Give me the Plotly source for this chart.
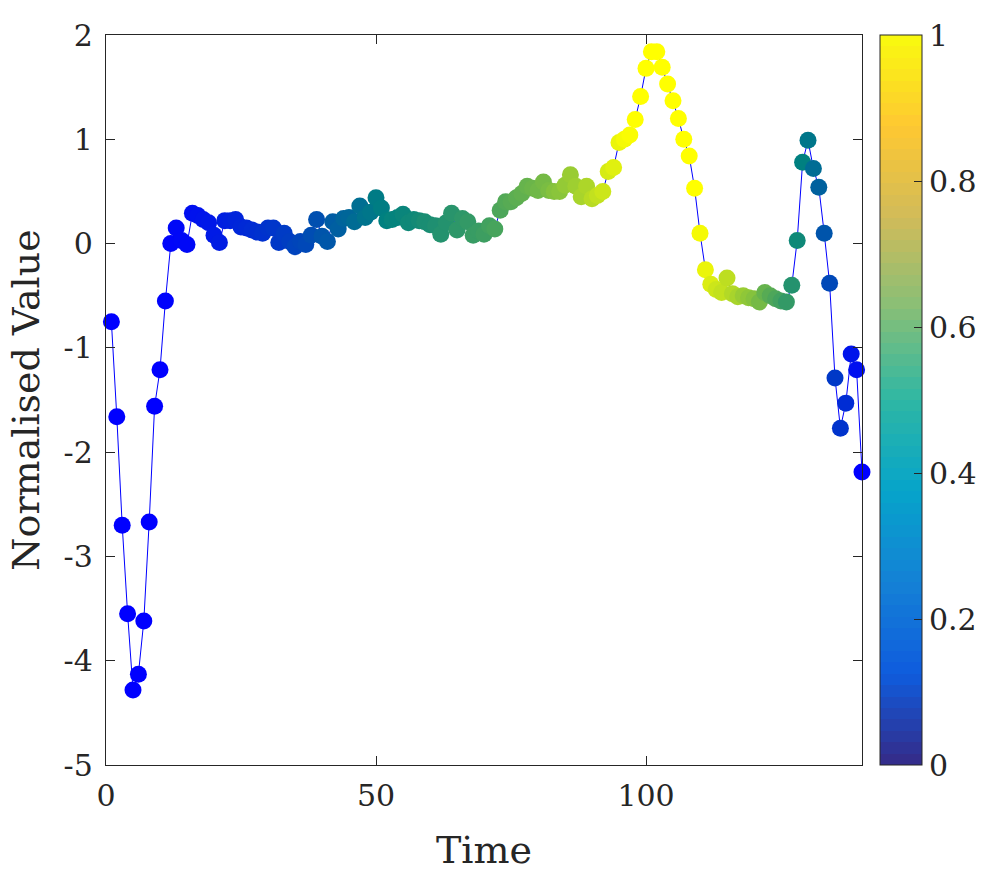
import plotly.graph_objects as go
import numpy as np

time = list(range(1, 141))
values = [
    -0.75, -1.66, -2.70, -3.55, -4.28, -4.13, -3.62, -2.67, -1.56, -1.21,
    -0.55, 0.00, 0.15, 0.03, -0.01, 0.29, 0.27, 0.23, 0.20, 0.08,
    0.01, 0.22, 0.22, 0.23, 0.16, 0.15, 0.13, 0.11, 0.10, 0.15,
    0.15, 0.01, 0.10, 0.02, -0.03, 0.02, -0.01, 0.08, 0.23, 0.07,
    0.02, 0.21, 0.14, 0.24, 0.25, 0.21, 0.36, 0.25, 0.30, 0.44,
    0.34, 0.22, 0.23, 0.25, 0.28, 0.20, 0.23, 0.22, 0.21, 0.18,
    0.17, 0.09, 0.20, 0.29, 0.13, 0.24, 0.21, 0.08, 0.12, 0.09,
    0.17, 0.14, 0.32, 0.40, 0.40, 0.44, 0.48, 0.55, 0.53, 0.51,
    0.59, 0.51, 0.50, 0.50, 0.56, 0.66, 0.55, 0.45, 0.55, 0.43,
    0.46, 0.50, 0.69, 0.73, 0.97, 1.00, 1.04, 1.19, 1.41, 1.68,
    1.84, 1.84, 1.69, 1.53, 1.37, 1.20, 1.00, 0.84, 0.53, 0.10,
    -0.25, -0.39, -0.44, -0.47, -0.33, -0.48, -0.51, -0.50, -0.52, -0.53,
    -0.56, -0.47, -0.50, -0.53, -0.55, -0.56, -0.40, 0.03, 0.78, 0.99,
    0.72, 0.54, 0.10, -0.38, -1.29, -1.77, -1.53, -1.06, -1.21, -2.19,
]
# per-point colour value (0 = blue, 0.5 = teal, 1 = yellow)
colour_val = [
    0.00, 0.00, 0.00, 0.00, 0.00, 0.00, 0.00, 0.00, 0.00, 0.00,
    0.01, 0.02, 0.03, 0.03, 0.03, 0.06, 0.07, 0.08, 0.09, 0.10,
    0.11, 0.12, 0.13, 0.14, 0.15, 0.16, 0.17, 0.18, 0.19, 0.20,
    0.21, 0.22, 0.23, 0.24, 0.26, 0.27, 0.28, 0.30, 0.31, 0.33,
    0.34, 0.36, 0.37, 0.39, 0.40, 0.42, 0.43, 0.45, 0.46, 0.48,
    0.49, 0.50, 0.51, 0.51, 0.52, 0.53, 0.53, 0.54, 0.55, 0.55,
    0.56, 0.57, 0.57, 0.58, 0.59, 0.59, 0.60, 0.61, 0.61, 0.62,
    0.63, 0.64, 0.65, 0.66, 0.67, 0.68, 0.69, 0.70, 0.71, 0.72,
    0.73, 0.74, 0.76, 0.77, 0.79, 0.80, 0.81, 0.83, 0.84, 0.86,
    0.88, 0.90, 0.92, 0.94, 0.96, 0.98, 0.99, 1.00, 1.00, 1.00,
    1.00, 1.00, 1.00, 1.00, 1.00, 1.00, 1.00, 1.00, 1.00, 0.98,
    0.96, 0.93, 0.90, 0.88, 0.87, 0.85, 0.83, 0.80, 0.78, 0.76,
    0.73, 0.70, 0.67, 0.65, 0.63, 0.60, 0.57, 0.53, 0.50, 0.46,
    0.42, 0.38, 0.33, 0.28, 0.22, 0.20, 0.17, 0.08, 0.06, 0.00,
]
x_ticks = [0, 50, 100]
x_ticktext = ["0", "50", "100"]
y_ticks = [-5, -4, -3, -2, -1, 0, 1, 2]
y_ticktext = ["-5", "-4", "-3", "-2", "-1", "0", "1", "2"]
cb_ticks = [0, 0.2, 0.4, 0.6, 0.8, 1]
cb_ticktext = ["0", "0.2", "0.4", "0.6", "0.8", "1"]

point_scale = [[0.0, "rgb(0,0,255)"], [0.5, "rgb(0,128,128)"], [1.0, "rgb(255,255,0)"]]

# parula anchors, expanded into 64 discrete bands
parula_anchor = [
    (53, 42, 135), (15, 92, 221), (20, 129, 214), (6, 164, 202),
    (46, 183, 164), (135, 191, 119), (209, 187, 89), (254, 200, 50), (249, 251, 14),
]
n = 64
pos = np.linspace(0, 1, len(parula_anchor))
arr = np.array(parula_anchor, dtype=float)
parula_scale = []
for i in range(n):
    f = (i + 0.5) / n
    rgb = [np.interp(f, pos, arr[:, k]) for k in range(3)]
    col = "rgb(%d,%d,%d)" % tuple(int(round(v)) for v in rgb)
    parula_scale.append([i / n, col])
    parula_scale.append([(i + 1) / n, col])

font_family = "DejaVu Serif"
axis_col = "#262626"
tick_size = 30
title_size = 38

fig = go.Figure()
fig.add_trace(go.Scatter(
    x=time, y=values, mode="lines",
    line=dict(color="rgb(0,0,255)", width=1),
    showlegend=False, hoverinfo="skip",
))
fig.add_trace(go.Scatter(
    x=time, y=values, mode="markers", cliponaxis=False,
    marker=dict(size=17, color=colour_val, colorscale=point_scale,
                cmin=0, cmax=1, showscale=False, line=dict(width=0)),
    showlegend=False,
))
# colourbar-only trace (parula)
fig.add_trace(go.Scatter(
    x=[None], y=[None], mode="markers",
    marker=dict(color=[0], colorscale=parula_scale, cmin=0, cmax=1,
                showscale=True,
                colorbar=dict(
                    x=1.0238, xanchor="left", xref="paper",
                    y=0.5, yanchor="middle", len=1.0, lenmode="fraction",
                    thickness=42, thicknessmode="pixels",
                    outlinewidth=1, outlinecolor=axis_col,
                    tickvals=cb_ticks, ticktext=cb_ticktext,
                    ticks="inside", ticklen=8, tickcolor=axis_col,
                    tickfont=dict(family=font_family, size=tick_size, color=axis_col),
                    ypad=0, xpad=0,
                )),
    showlegend=False, hoverinfo="skip",
))

fig.update_layout(
    width=992, height=872,
    margin=dict(l=106, r=130, t=35, b=107, autoexpand=False),
    paper_bgcolor="white", plot_bgcolor="white",
    font=dict(family=font_family, color=axis_col),
    xaxis=dict(
        range=[0, 140], tickvals=x_ticks, ticktext=x_ticktext,
        ticks="inside", ticklen=9, tickcolor=axis_col, tickwidth=1,
        showline=True, linecolor=axis_col, linewidth=1.3, mirror="ticks",
        showgrid=False, zeroline=False, ticklabelstandoff=4,
        tickfont=dict(family=font_family, size=tick_size, color=axis_col),
        title=dict(text="Time", font=dict(family=font_family, size=title_size, color=axis_col), standoff=24),
    ),
    yaxis=dict(
        range=[-5, 2], tickvals=y_ticks, ticktext=y_ticktext,
        ticks="inside", ticklen=9, tickcolor=axis_col, tickwidth=1,
        showline=True, linecolor=axis_col, linewidth=1.3, mirror="ticks",
        showgrid=False, zeroline=False, ticklabelstandoff=6,
        tickfont=dict(family=font_family, size=tick_size, color=axis_col),
        title=dict(text="Normalised Value", font=dict(family=font_family, size=title_size, color=axis_col), standoff=12),
    ),
)

fig.write_html("out.html")
